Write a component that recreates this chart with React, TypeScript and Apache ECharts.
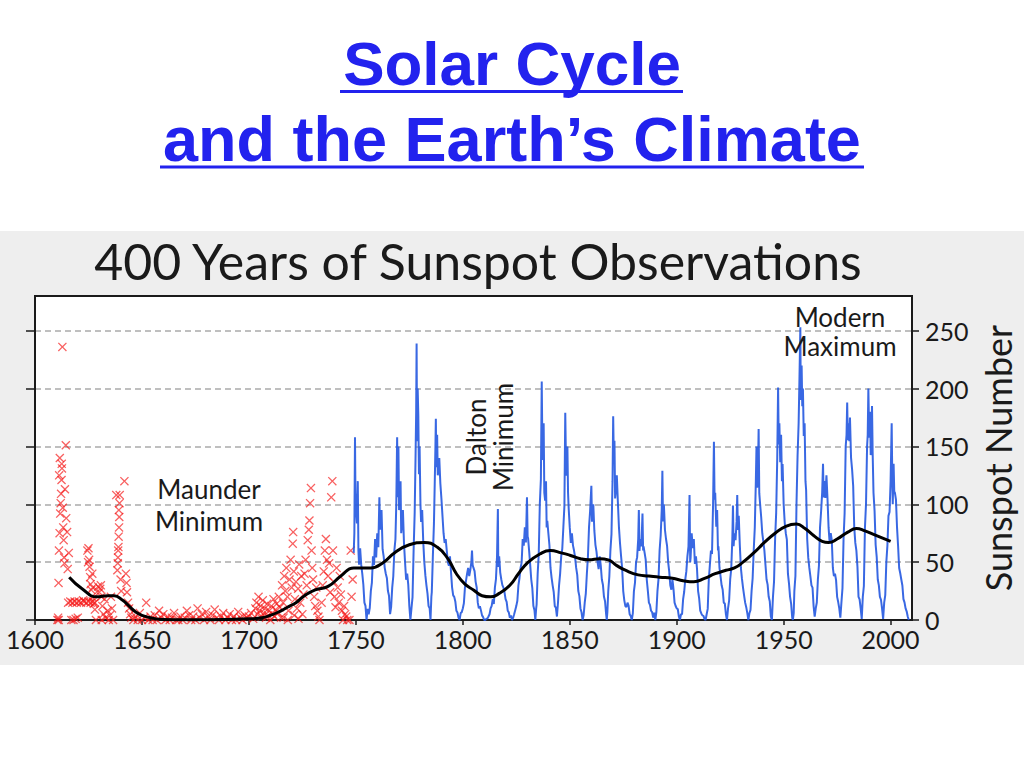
import React, { useEffect, useRef } from 'react';
import * as echarts from 'echarts';

const yearTicks = [1600, 1650, 1700, 1750, 1800, 1850, 1900, 1950, 2000];
const sunspotTicks = [0, 50, 100, 150, 200, 250];

// Red crosses: early (group) sunspot observations 1610-1749
const groupSunspots: [number, number][] = [
  [1610.5, 0], [1611, 32], [1611.2, 60], [1611.5, 75], [1611.8, 92], [1611.3, 125], [1611.6, 140], [1612, 101], [1612.2, 109], [1612.4, 121],
  [1612.5, 135], [1612.6, 131], [1612.8, 236], [1613, 97], [1613.2, 80], [1613.4, 69], [1613.6, 54], [1613.8, 49], [1614, 113], [1614.4, 151],
  [1614.6, 88], [1615, 76], [1615.3, 44], [1615.8, 58], [1610.8, 2], [1611.1, 0],
  [1615.5, 15], [1616.5, 16], [1617.5, 15], [1618.5, 16], [1619.5, 15], [1620.5, 16], [1621.5, 15], [1622.5, 17], [1623, 16], [1624, 15],
  [1625, 16], [1626, 15], [1627, 16], [1628, 15], [1617, 0], [1618, 0], [1620, 2], [1619, 1],
  [1624.5, 60], [1625, 62], [1625.3, 52], [1625.5, 46], [1625.8, 37], [1626, 31], [1626.3, 26], [1626.6, 20], [1627, 28], [1627.5, 14],
  [1628, 9], [1626.8, 40], [1624.8, 50],
  [1629.5, 29], [1630, 24], [1630.5, 27], [1631, 20], [1631.5, 12], [1632, 5], [1633, 2], [1630.8, 30], [1632.5, 18], [1628.5, 0], [1631.2, 0],
  [1634, 8], [1635, 4], [1636, 10], [1635.5, 20], [1634.5, 0], [1636.5, 0],
  [1638, 108], [1638.5, 43], [1638.7, 49], [1638.8, 54], [1638.9, 60], [1639, 63], [1639.1, 72], [1639.2, 95], [1639.3, 80], [1639.4, 89],
  [1639.5, 101], [1639.6, 108], [1641.8, 120], [1640, 35], [1640.3, 25],
  [1642.5, 40], [1642.8, 32], [1643, 24], [1643.5, 15], [1644, 10], [1644.5, 5], [1645, 2],
  [1646, 0], [1647, 3], [1648, 0], [1649, 6], [1650, 0], [1651, 2], [1652, 15], [1653, 0], [1654, 3], [1655, 0],
  [1656, 4], [1657, 0], [1658, 8], [1659, 2], [1660, 5], [1661, 0], [1662, 3], [1663, 0], [1664, 2], [1665, 6],
  [1666, 0], [1667, 0], [1668, 3], [1669, 0], [1670, 2], [1671, 8], [1672, 4], [1673, 0], [1674, 3], [1675, 0],
  [1676, 10], [1677, 2], [1678, 5], [1679, 0], [1680, 7], [1681, 3], [1682, 0], [1683, 4], [1684, 9], [1685, 2],
  [1686, 0], [1687, 3], [1688, 6], [1689, 0], [1690, 2], [1691, 5], [1692, 0], [1693, 3], [1694, 0], [1695, 7],
  [1696, 2], [1697, 0], [1698, 4], [1699, 2],
  [1700, 3], [1701, 6], [1702, 1], [1703, 10], [1703.5, 15], [1704, 5], [1704.5, 20], [1705, 8], [1705.5, 12], [1706, 3],
  [1706.5, 17], [1707, 6], [1707.5, 10], [1708, 2], [1708.5, 14], [1709, 4], [1709.5, 8], [1710, 0], [1710.5, 12], [1711, 5],
  [1711.5, 18], [1712, 3], [1712.5, 9], [1713, 14], [1713.5, 6], [1714, 20], [1714.5, 11], [1715, 2],
  [1715.5, 30], [1716, 15], [1716.5, 38], [1717, 25], [1717.5, 45], [1718, 20], [1718.5, 8], [1719, 35], [1719.5, 52], [1720, 28],
  [1720.5, 66], [1720.7, 76], [1721, 42], [1721.5, 18], [1722, 33], [1722.5, 10], [1723, 27], [1723.5, 48], [1724, 15], [1724.5, 38],
  [1725, 5], [1725.5, 22], [1716.2, 2], [1718.2, 0], [1721.2, 4], [1723.2, 1],
  [1726, 40], [1726.5, 52], [1727, 30], [1727.5, 69], [1728, 78], [1728.3, 86], [1728.6, 101], [1729, 114], [1729.3, 60], [1729.6, 45],
  [1730, 35], [1730.5, 20], [1731, 12], [1731.5, 28], [1732, 8], [1732.5, 3], [1733, 0],
  [1734, 15], [1734.5, 30], [1735, 42], [1735.5, 60], [1736, 70], [1736.5, 52], [1737, 38], [1737.5, 49], [1738, 24], [1738.5, 106],
  [1739, 120], [1739.3, 60], [1739.6, 33], [1740, 20], [1740.5, 11], [1741, 45], [1741.5, 28], [1742, 15], [1742.5, 38], [1743, 22],
  [1743.5, 8], [1744, 0], [1744.5, 12], [1745, 5], [1745.5, 3], [1746, 0], [1747, 0], [1747.6, 60], [1748, 20], [1748.5, 35],
];

// Blue line: sunspot numbers 1749-2008 (yearly levels with monthly peaks)
const monthlySunspots: [number, number][] = [
  [1749.0, 58], [1749.3, 75], [1749.6, 158], [1749.8, 110], [1750.1, 95], [1750.5, 83.4], [1750.9, 120], [1751.2, 60], [1751.5, 47.7], [1752.0, 62],
  [1752.5, 47.8], [1753.0, 40], [1753.5, 30.7], [1754.0, 15], [1754.5, 12.2], [1755.0, 0], [1755.5, 9.6],
  [1756.0, 5], [1756.5, 10.2], [1757.0, 25], [1757.5, 32.4], [1758.0, 55], [1758.5, 47.6], [1759.0, 70], [1759.5, 54], [1760.0, 75], [1760.5, 62.9],
  [1761.0, 106], [1761.3, 78], [1761.6, 85.9], [1762.0, 95], [1762.5, 61.2], [1763.0, 55], [1763.5, 45.1], [1764.0, 40], [1764.5, 36.4], [1765.0, 25],
  [1765.5, 20.9], [1766.0, 5], [1766.5, 11.4],
  [1767.0, 28], [1767.5, 37.8], [1768.0, 60], [1768.5, 69.8], [1768.9, 100], [1769.3, 158], [1769.6, 106.1], [1769.9, 150], [1770.2, 95], [1770.5, 100.8],
  [1770.9, 120], [1771.2, 75], [1771.5, 81.6], [1772.0, 95], [1772.5, 66.5], [1773.0, 50], [1773.5, 34.8], [1774.0, 40], [1774.5, 30.6], [1775.0, 12],
  [1775.5, 0], [1776.0, 10], [1776.5, 19.8],
  [1777.0, 60], [1777.5, 92.5], [1777.9, 140], [1778.2, 180], [1778.4, 239], [1778.6, 154.4], [1778.9, 200], [1779.2, 177], [1779.5, 125.9], [1779.8, 150],
  [1780.2, 100], [1780.5, 84.8], [1781.0, 95], [1781.5, 68.1], [1782.0, 50], [1782.5, 38.5], [1783.0, 30], [1783.5, 22.8], [1784.0, 12], [1784.5, 10.2],
  [1784.9, 0], [1785.3, 20], [1785.5, 24.1],
  [1786.0, 55], [1786.5, 82.9], [1786.9, 120], [1787.2, 150], [1787.4, 174], [1787.6, 132], [1788.0, 160], [1788.3, 125], [1788.6, 130.9], [1789.0, 140],
  [1789.5, 118.1], [1790.0, 105], [1790.5, 89.9], [1791.0, 75], [1791.5, 66.6], [1792.0, 70], [1792.5, 60], [1793.0, 50], [1793.5, 46.9], [1794.0, 55],
  [1794.5, 41], [1795.0, 28], [1795.5, 21.3], [1796.0, 20], [1796.5, 16], [1797.0, 8], [1797.5, 6.4], [1798.0, 2], [1798.5, 0], [1799.0, 6], [1799.5, 6.8],
  [1800.0, 10], [1800.5, 14.5], [1801.0, 28], [1801.5, 34], [1802.0, 40], [1802.5, 45], [1803.0, 38], [1803.5, 43.1], [1804.0, 50], [1804.3, 60],
  [1804.6, 47.5], [1805.0, 45], [1805.5, 42.2], [1806.0, 33], [1806.5, 28.1], [1807.0, 15], [1807.5, 10.1], [1808.0, 12], [1808.5, 8.1], [1809.0, 4],
  [1809.5, 2.5], [1810.0, 0], [1810.5, 0], [1811.0, 1], [1811.5, 1.4], [1812.0, 3], [1812.5, 5],
  [1813.0, 10], [1813.5, 12.2], [1814.0, 18], [1814.5, 13.9], [1815.0, 28], [1815.5, 35.4], [1816.0, 55], [1816.4, 96], [1816.6, 45.8], [1817.0, 55],
  [1817.5, 41], [1818.0, 35], [1818.5, 30.1], [1819.0, 28], [1819.5, 23.9], [1820.0, 18], [1820.5, 15.6], [1821.0, 8], [1821.5, 6.6], [1822.0, 2],
  [1822.5, 4], [1823.0, 0], [1823.5, 1.8], [1824.0, 5], [1824.5, 8.5],
  [1825.0, 12], [1825.5, 16.6], [1826.0, 30], [1826.5, 36.3], [1827.0, 45], [1827.5, 49.6], [1828.0, 70], [1828.5, 64.2], [1829.0, 80], [1829.5, 67],
  [1830.0, 106], [1830.3, 72], [1830.5, 70.9], [1831.0, 60], [1831.5, 47.8], [1832.0, 35], [1832.5, 27.5], [1833.0, 12], [1833.5, 8.5], [1833.9, 0],
  [1834.3, 10], [1834.5, 13.2],
  [1835.0, 40], [1835.5, 56.9], [1836.0, 100], [1836.5, 121.5], [1836.9, 206], [1837.2, 150], [1837.5, 138.3], [1837.8, 170], [1838.1, 110], [1838.5, 103.2],
  [1838.9, 120], [1839.2, 80], [1839.5, 85.7], [1840.0, 75], [1840.5, 64.6], [1841.0, 45], [1841.5, 36.7], [1842.0, 30], [1842.5, 24.2], [1843.0, 12],
  [1843.5, 10.7], [1844.0, 3], [1844.5, 15],
  [1845.0, 30], [1845.5, 40.1], [1846.0, 55], [1846.5, 61.5], [1847.0, 80], [1847.5, 98.5], [1847.9, 179], [1848.2, 140], [1848.5, 124.7], [1848.9, 150],
  [1849.2, 110], [1849.5, 96.3], [1850.0, 80], [1850.5, 66.6], [1851.0, 75], [1851.5, 64.5], [1852.0, 60], [1852.5, 54.1], [1853.0, 45], [1853.5, 39],
  [1854.0, 25], [1854.5, 20.6], [1855.0, 10], [1855.5, 6.7], [1856.0, 0], [1856.5, 4.3],
  [1857.0, 15], [1857.5, 22.7], [1858.0, 40], [1858.5, 54.8], [1859.0, 80], [1859.5, 93.8], [1860.1, 116], [1860.4, 85], [1860.6, 95.8], [1861.0, 100],
  [1861.5, 77.2], [1862.0, 65], [1862.5, 59.1], [1863.0, 50], [1863.5, 44], [1864.0, 55], [1864.5, 47], [1865.0, 35], [1865.5, 30.5], [1866.0, 20],
  [1866.5, 16.3], [1867.0, 5], [1867.3, 0], [1867.6, 7.3],
  [1868.0, 25], [1868.5, 37.6], [1869.0, 60], [1869.5, 74], [1870.0, 120], [1870.3, 176], [1870.6, 139], [1870.9, 155], [1871.2, 105], [1871.5, 111.2],
  [1872.0, 125], [1872.5, 101.6], [1873.0, 80], [1873.5, 66.2], [1874.0, 55], [1874.5, 44.7], [1875.0, 25], [1875.5, 17], [1876.0, 12], [1876.5, 11.3],
  [1877.0, 15], [1877.5, 12.4], [1878.0, 5], [1878.5, 3.4], [1879.0, 0], [1879.5, 6],
  [1880.0, 25], [1880.5, 32.3], [1881.0, 50], [1881.5, 54.3], [1882.0, 70], [1882.3, 95], [1882.6, 59.7], [1883.0, 70], [1883.5, 63.7], [1884.0, 92],
  [1884.3, 60], [1884.5, 63.5], [1885.0, 58], [1885.5, 52.2], [1886.0, 35], [1886.5, 25.4], [1887.0, 15], [1887.5, 13.1], [1888.0, 8], [1888.5, 6.8],
  [1889.0, 2], [1889.5, 6.3], [1890.0, 0], [1890.5, 7.1],
  [1891.0, 25], [1891.5, 35.6], [1892.0, 60], [1892.5, 73], [1893.0, 95], [1893.3, 129], [1893.6, 85.1], [1894.0, 100], [1894.5, 78], [1895.0, 70],
  [1895.5, 64], [1896.0, 50], [1896.5, 41.8], [1897.0, 30], [1897.5, 26.2], [1898.0, 35], [1898.5, 26.7], [1899.0, 15], [1899.5, 12.1], [1900.0, 10],
  [1900.5, 9.5], [1901.0, 3], [1901.5, 0], [1902.0, 5], [1902.5, 5],
  [1903.0, 18], [1903.5, 24.4], [1904.0, 35], [1904.5, 42], [1905.0, 55], [1905.5, 63.5], [1906.0, 108], [1906.3, 50], [1906.5, 53.8], [1907.0, 75],
  [1907.5, 62], [1908.0, 70], [1908.5, 48.5], [1909.0, 55], [1909.5, 43.9], [1910.0, 25], [1910.5, 18.6], [1911.0, 8], [1911.5, 5.7], [1912.0, 4],
  [1912.5, 3.6], [1913.0, 1], [1913.5, 0], [1914.0, 5], [1914.5, 9.6],
  [1915.0, 35], [1915.5, 47.4], [1916.0, 60], [1916.5, 57.1], [1917.0, 100], [1917.4, 154], [1917.7, 103.9], [1918.0, 110], [1918.5, 80.6], [1918.9, 95],
  [1919.3, 60], [1919.5, 63.6], [1920.0, 45], [1920.5, 37.6], [1921.0, 30], [1921.5, 26.1], [1922.0, 15], [1922.5, 14.2], [1923.0, 5], [1923.5, 0],
  [1924.0, 10], [1924.5, 16.7],
  [1925.0, 35], [1925.5, 44.3], [1926.0, 70], [1926.3, 99], [1926.6, 63.9], [1927.0, 75], [1927.5, 69], [1928.0, 85], [1928.3, 108], [1928.6, 77.8],
  [1929.0, 90], [1929.5, 64.9], [1930.0, 45], [1930.5, 35.7], [1931.0, 28], [1931.5, 21.2], [1932.0, 15], [1932.5, 11.1], [1933.0, 6], [1933.5, 0],
  [1934.0, 6], [1934.5, 8.7],
  [1935.0, 25], [1935.5, 36.1], [1936.0, 60], [1936.5, 79.7], [1937.0, 120], [1937.3, 150], [1937.6, 114.4], [1938.0, 130], [1938.3, 165], [1938.6, 109.6],
  [1939.0, 100], [1939.5, 88.8], [1940.0, 75], [1940.5, 67.8], [1941.0, 60], [1941.5, 47.5], [1942.0, 35], [1942.5, 30.6], [1943.0, 20], [1943.5, 16.3],
  [1944.0, 3], [1944.5, 0], [1945.0, 20], [1945.5, 33.2],
  [1946.0, 70], [1946.5, 92.6], [1947.0, 140], [1947.4, 201], [1947.7, 151.6], [1948.0, 170], [1948.4, 136.3], [1948.8, 160], [1949.2, 120], [1949.5, 134.7],
  [1950.0, 100], [1950.5, 83.9], [1951.0, 75], [1951.5, 69.4], [1952.0, 40], [1952.5, 31.5], [1953.0, 20], [1953.5, 13.9], [1954.0, 2], [1954.3, 0],
  [1954.7, 6], [1955.0, 25], [1955.5, 38],
  [1956.0, 100], [1956.5, 141.7], [1957.0, 170], [1957.4, 210], [1957.8, 253], [1958.0, 190.2], [1958.4, 220], [1958.7, 184.8], [1959.0, 200], [1959.4, 159],
  [1959.8, 170], [1960.2, 120], [1960.5, 112.3], [1961.0, 70], [1961.5, 53.9], [1962.0, 45], [1962.5, 37.6], [1963.0, 30], [1963.5, 27.9], [1964.0, 12],
  [1964.5, 3], [1965.0, 10], [1965.5, 15.1],
  [1966.0, 35], [1966.5, 47], [1967.0, 80], [1967.5, 93.8], [1968.0, 110], [1968.4, 135], [1968.7, 105.9], [1969.0, 120], [1969.5, 105.5], [1970.0, 125],
  [1970.5, 104.5], [1971.0, 80], [1971.5, 66.6], [1972.0, 75], [1972.5, 68.9], [1973.0, 45], [1973.5, 38], [1974.0, 40], [1974.5, 34.5], [1975.0, 20],
  [1975.5, 15.5], [1976.0, 10], [1976.5, 2], [1977.0, 15], [1977.5, 27.5],
  [1978.0, 70], [1978.5, 92.5], [1979.0, 150], [1979.4, 160], [1979.7, 188], [1980.0, 155.4], [1980.4, 170], [1980.7, 154.6], [1981.0, 175], [1981.5, 140.4],
  [1982.0, 130], [1982.5, 115.9], [1983.0, 80], [1983.5, 66.6], [1984.0, 60], [1984.5, 45.9], [1985.0, 20], [1985.5, 17.9], [1986.0, 10], [1986.5, 1],
  [1987.0, 20], [1987.5, 29.4],
  [1988.0, 80], [1988.5, 100.2], [1989.0, 150], [1989.3, 160], [1989.6, 200], [1990.0, 157.6], [1990.4, 180], [1990.7, 142.6], [1991.0, 145.7], [1991.3, 185],
  [1991.6, 145], [1992.0, 110], [1992.5, 94.3], [1993.0, 65], [1993.5, 54.6], [1994.0, 35], [1994.5, 29.9], [1995.0, 20], [1995.5, 17.5], [1996.0, 10],
  [1996.5, 1], [1997.0, 15], [1997.5, 21.5],
  [1998.0, 50], [1998.5, 64.3], [1999.0, 90], [1999.5, 93.3], [2000.0, 120], [2000.5, 170], [2000.8, 119.6], [2001.0, 100], [2001.4, 135], [2001.7, 111],
  [2002.0, 110], [2002.5, 104], [2003.0, 80], [2003.5, 63.7], [2004.0, 45], [2004.5, 40.4], [2005.0, 35], [2005.5, 29.8], [2006.0, 18], [2006.5, 15.2],
  [2007.0, 10], [2007.5, 7.5], [2008.0, 3], [2008.5, 0],
];

// Black line: smoothed sunspot number
const smoothedSunspots: [number, number][] = [
  [1616, 37], [1622, 27], [1629, 20], [1634, 21], [1637, 21], [1641, 17], [1644, 12], [1647, 7], [1650, 4], [1655, 1.5],
  [1660, 0.5], [1670, 0.3], [1680, 0.3], [1690, 0.5], [1700, 1], [1706, 2], [1710, 4], [1714, 7], [1718, 11], [1722, 15],
  [1726, 21], [1731, 26], [1737, 29], [1743, 38], [1749, 45], [1757, 45], [1763, 50], [1768, 58], [1775, 65], [1782, 67],
  [1788, 63], [1793, 53], [1797, 40], [1801, 31], [1805, 26], [1809, 21], [1813, 20], [1817, 23], [1822, 30], [1826, 40],
  [1830, 49], [1836, 57], [1841, 60], [1846, 58], [1850, 56], [1855, 53], [1859, 52], [1864, 53], [1868, 52], [1872, 47],
  [1876, 43], [1882, 39], [1887, 38], [1892, 37], [1898, 36], [1903, 34], [1908, 33], [1913, 36], [1918, 40], [1923, 43],
  [1927, 45], [1931, 50], [1936, 58], [1941, 67], [1946, 75], [1951, 81], [1956, 83], [1960, 79], [1964, 73], [1968, 68],
  [1971, 67], [1975, 70], [1980, 76], [1984, 79], [1988, 77], [1992, 74], [1996, 71], [2000, 68],
];

const INK = '#1a1a1a';
const HEAD_BLUE = '#2222ee';
const HEAD_FONT = '"Liberation Sans", Arial, sans-serif';
const FONT = 'Lato, "Open Sans", sans-serif';
const CROSS = 'path://M1,0 L5,4 L9,0 L10,1 L6,5 L10,9 L9,10 L5,6 L1,10 L0,9 L4,5 L0,1 Z';

export default function App() {
  const ref = useRef<HTMLDivElement>(null);

  useEffect(() => {
    if (!ref.current) return;
    const chart = echarts.init(ref.current, null, { renderer: 'svg' });
    chart.setOption({
      animation: false,
      backgroundColor: '#ffffff',
      textStyle: { fontFamily: FONT },
      graphic: [
        {
          type: 'rect', z: -100, silent: true,
          shape: { x: 0, y: 231, width: 1024, height: 434 },
          style: { fill: '#eeeeee' },
        },
        {
          type: 'text', x: 512, y: 63,
          style: {
            text: 'Solar Cycle', fontSize: 62, fontWeight: 'bold', fontFamily: HEAD_FONT,
            fill: HEAD_BLUE, align: 'center', verticalAlign: 'middle', textAlign: 'center', textVerticalAlign: 'middle',
          },
        },
        { type: 'line', shape: { x1: 340, y1: 91.5, x2: 683, y2: 91.5 }, style: { stroke: HEAD_BLUE, lineWidth: 3 } },
        {
          type: 'text', x: 512, y: 139,
          style: {
            text: 'and the Earth’s Climate', fontSize: 63, fontWeight: 'bold', fontFamily: HEAD_FONT,
            fill: HEAD_BLUE, align: 'center', verticalAlign: 'middle', textAlign: 'center', textVerticalAlign: 'middle',
          },
        },
        { type: 'line', shape: { x1: 160, y1: 167, x2: 864, y2: 167 }, style: { stroke: HEAD_BLUE, lineWidth: 3 } },
        {
          type: 'text', x: 478, y: 261,
          style: {
            text: '400 Years of Sunspot Observations', fontSize: 50, fontFamily: FONT,
            fill: INK, align: 'center', verticalAlign: 'middle', textAlign: 'center', textVerticalAlign: 'middle',
          },
        },
        {
          type: 'text', x: 209, y: 505, z: 50,
          style: {
            text: 'Maunder\nMinimum', fontSize: 26, lineHeight: 32, fontFamily: FONT,
            fill: INK, align: 'center', verticalAlign: 'middle', textAlign: 'center', textVerticalAlign: 'middle',
          },
        },
        {
          type: 'text', x: 489, y: 437, rotation: Math.PI / 2, z: 50,
          style: {
            text: 'Dalton\nMinimum', fontSize: 26, lineHeight: 27, fontFamily: FONT,
            fill: INK, align: 'center', verticalAlign: 'middle', textAlign: 'center', textVerticalAlign: 'middle',
          },
        },
        {
          type: 'text', x: 840, y: 331, z: 50,
          style: {
            text: 'Modern\nMaximum', fontSize: 26, lineHeight: 29, fontFamily: FONT,
            fill: INK, align: 'center', verticalAlign: 'middle', textAlign: 'center', textVerticalAlign: 'middle',
          },
        },
      ],
      grid: {
        left: 35, right: 106, top: 296, bottom: 148,
        show: true, backgroundColor: '#ffffff', borderColor: INK, borderWidth: 2,
      },
      xAxis: {
        type: 'value', min: 1600, max: 2010, interval: 50,
        axisLine: { show: true, onZero: false, lineStyle: { color: INK, width: 2 } },
        axisTick: { show: true, length: 5, customValues: yearTicks, lineStyle: { color: INK, width: 1.5 } },
        axisLabel: {
          customValues: yearTicks, fontSize: 25, color: INK, margin: 6, fontFamily: FONT,
          formatter: (v: number) => String(v),
        },
        splitLine: { show: false },
      },
      yAxis: [
        {
          type: 'value', position: 'left', min: 0, max: 280, interval: 50,
          axisLine: { show: true, lineStyle: { color: INK, width: 2 } },
          axisTick: { show: true, length: 9, customValues: sunspotTicks, lineStyle: { color: INK, width: 1.5 } },
          axisLabel: { show: false },
          splitLine: { show: true, lineStyle: { type: [6, 4], color: '#aaaaaa', width: 1.5 } },
        },
        {
          type: 'value', position: 'right', min: 0, max: 280, interval: 50,
          name: 'Sunspot Number', nameLocation: 'middle', nameRotate: 90, nameGap: 68,
          nameTextStyle: { fontSize: 36, color: INK, fontFamily: FONT },
          axisLine: { show: true, lineStyle: { color: INK, width: 2 } },
          axisTick: { show: true, length: 7, customValues: sunspotTicks, lineStyle: { color: INK, width: 1.5 } },
          axisLabel: {
            customValues: sunspotTicks, fontSize: 25, color: INK, margin: 13, fontFamily: FONT,
            formatter: (v: number) => String(v),
          },
          splitLine: { show: false },
        },
      ],
      series: [
        {
          name: 'Group sunspots', type: 'scatter', data: groupSunspots, z: 2,
          symbol: CROSS, symbolSize: 9,
          itemStyle: { color: 'rgba(245, 20, 20, 0.85)' },
        },
        {
          name: 'Sunspot number', type: 'line', data: monthlySunspots, z: 3,
          showSymbol: false, symbol: 'none',
          lineStyle: { color: '#2458e0', width: 2, opacity: 0.9 },
        },
        {
          name: 'Smoothed', type: 'line', data: smoothedSunspots, z: 4,
          showSymbol: false, symbol: 'none', smooth: 0.5,
          lineStyle: { color: '#000000', width: 3 },
        },
      ],
    });
    return () => chart.dispose();
  }, []);

  return <div ref={ref} style={{ position: 'absolute', left: 0, top: 0, width: 1024, height: 768 }} />;
}
